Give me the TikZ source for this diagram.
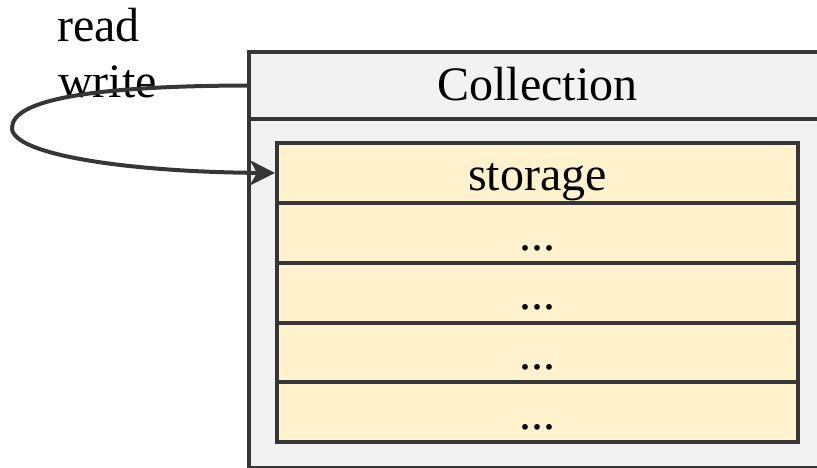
\documentclass[tikz,border=0pt]{standalone}
\usepackage{fontspec}
\setmainfont{Liberation Serif}
\usetikzlibrary{arrows.meta}
\definecolor{edge}{HTML}{363636}
\definecolor{panel}{HTML}{F2F2F2}
\definecolor{cell}{HTML}{FFF2CC}
\tikzset{
  boxline/.style={draw=edge, line width=4pt},
  panelbox/.style={boxline, fill=panel, inner sep=0pt, anchor=north west},
  centred/.style={inner sep=0pt, text height=43pt, text depth=8.6pt},
  cellbox/.style={boxline, fill=cell, centred, minimum width=521pt,
    minimum height=59.8pt},
  plain/.style={inner sep=0pt, anchor=base west},
  link/.style={draw=edge, line width=4pt, -{Stealth[length=25pt,width=25pt,inset=7pt]}},
}
\begin{document}
\begin{tikzpicture}[x=1pt, y=-1pt, font=\fontsize{48}{55}\selectfont]
  \clip (0,0) rectangle (817,468);
  % container: title bar and body
  \node[panelbox, minimum width=581pt, minimum height=349pt] (body) at (247,117) {};
  \node[panelbox, minimum width=581pt, minimum height=67pt] (head) at (247,50) {};
  \node[centred] (title) at (537.5,83.5) {Collection};
  % stacked cells
  \node[cellbox] (c1) at (537.5,173) {storage};
  \node[cellbox] (c2) at (537.5,232.8) {...};
  \node[cellbox] (c3) at (537.5,292.6) {...};
  \node[cellbox] (c4) at (537.5,352.4) {...};
  \node[cellbox] (c5) at (537.5,412.2) {...};
  % labels
  \node[plain] (lread) at (57,42) {read};
  \node[plain] (lwrite) at (58,98) {write};
  % loop from the title bar back into the first cell
  \coordinate (turn) at (12,128);
  \draw[link] (head.west) .. controls (90,86) and (12,100) .. (turn)
    .. controls (12,155) and (130,172) .. (c1.west);
\end{tikzpicture}
\end{document}
